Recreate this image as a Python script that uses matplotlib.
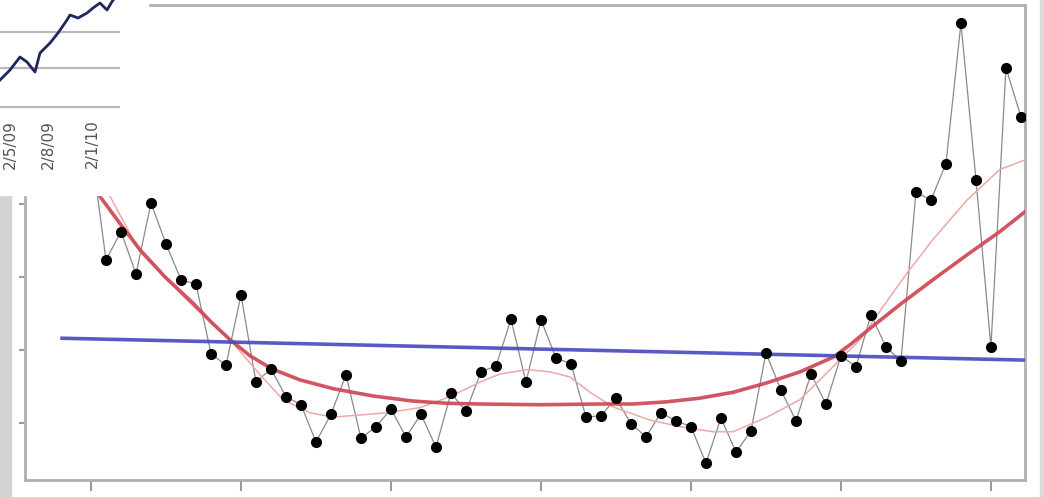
import numpy as np
import matplotlib.pyplot as plt
from matplotlib.patches import Rectangle

# observed series (x = period index)
obs_x = np.arange(63)
obs_y = [4.78, 3.23, 3.62, 3.04, 4.01, 3.45, 2.96, 2.90, 1.95, 1.79,
         2.75, 1.56, 1.74, 1.36, 1.25, 0.74, 1.12, 1.66, 0.79, 0.95,
         1.19, 0.81, 1.12, 0.67, 1.41, 1.16, 1.70, 1.78, 2.42, 1.56,
         2.41, 1.89, 1.81, 1.08, 1.10, 1.34, 0.99, 0.81, 1.14, 1.03,
         0.95, 0.45, 1.07, 0.60, 0.89, 1.96, 1.45, 1.03, 1.67, 1.26,
         1.92, 1.77, 2.48, 2.04, 1.85, 4.16, 4.05, 4.55, 6.47, 4.33,
         2.04, 5.86, 5.19]

# linear trend
lin_x = [-1.93, 62.4]
lin_y = [2.16, 1.86]

# polynomial trend
poly_x = [0, 0.6, 1.93, 3.27, 4.93, 6.8, 8.07, 9.27, 10.6, 12.07, 13.93,
          16.13, 18.8, 21.47, 23.73, 25.93, 29.93, 33.93, 36.13, 38.4, 40.6,
          42.8, 45.07, 47.27, 49.47, 50.6, 51.73, 53.93, 56.13, 58.4, 60.6,
          62.27]
poly_y = [4.26, 4.10, 3.73, 3.37, 3.00, 2.64, 2.37, 2.14, 1.92, 1.74, 1.59,
          1.47, 1.37, 1.30, 1.27, 1.26, 1.25, 1.26, 1.26, 1.29, 1.34,
          1.42, 1.55, 1.70, 1.90, 2.07, 2.26, 2.62, 2.96, 3.30, 3.62,
          3.89]

# local smoother
lo_x = [0, 1.27, 3.27, 6.8, 9.27, 11.27, 12.8, 14.6, 16.13, 19.73, 21.93,
        23.93, 25.93, 27.27, 29.07, 30.6, 31.93, 33.27, 34.8, 37.27, 39.27,
        41.47, 42.8, 45.07, 47.27, 49.47, 51.27, 52.8, 54.4, 56.13, 58.4,
        60.6, 62.27]
lo_y = [4.33, 4.10, 3.34, 2.60, 2.14, 1.66, 1.32, 1.14, 1.08, 1.14, 1.21,
        1.36, 1.56, 1.67, 1.73, 1.70, 1.63, 1.42, 1.22, 1.04, 0.95,
        0.88, 0.88, 1.08, 1.32, 1.77, 2.14, 2.59, 3.05, 3.51, 4.05,
        4.47, 4.60]

# small price chart in the corner
mini_x = [0, 10, 20, 27, 35, 40, 50, 58, 67, 70, 78, 87, 93, 100, 107, 113, 120]
mini_y = [30, 40, 53, 48, 38, 57, 67, 77, 90, 95, 92, 97, 102, 107, 100, 110, 115]
mini_grid = [3, 42, 78]
mini_ticks = [10, 48, 92]
mini_labels = ['2/5/09', '2/8/09', '2/1/10']

W, H = 1044, 497
fig = plt.figure(figsize=(W / 100, H / 100), dpi=100)

# grey strips at the edges
fig.patches.append(Rectangle((0, 0), 11 / W, 1, transform=fig.transFigure,
                             color='#d4d4d4', zorder=0))
fig.patches.append(Rectangle((1040 / W, 0), 4 / W, 1, transform=fig.transFigure,
                             color='#dcdcdc', zorder=0))

ax = fig.add_axes([25 / W, (H - 480) / H, 1000 / W, 475 / H])
ax.plot(obs_x, obs_y, color='#8a8a8a', lw=0.9, zorder=2)
ax.plot(obs_x, obs_y, 'o', color='black', ms=7, zorder=5)
ax.plot(lo_x, lo_y, color='#eea8a8', lw=1.1, zorder=3)
ax.plot(poly_x, poly_y, color='#cc4450', lw=2.6, alpha=0.9, zorder=4,
        solid_joinstyle='round')
ax.plot(lin_x, lin_y, color='#4848c0', lw=2.6, alpha=0.9, zorder=4)

ax.set_xlim(-4.4, 62.27)
ax.set_ylim(0.22, 6.72)
ax.set_xticks(range(0, 61, 10))
ax.set_yticks([1, 2, 3, 4, 5, 6])
ax.tick_params(colors='#9a9a9a', width=1.5, labelleft=False, labelbottom=False)
ax.tick_params(axis='x', length=8)
ax.tick_params(axis='y', length=4)
for s in ax.spines.values():
    s.set_color('#b0b0b0')
    s.set_linewidth(2)

# corner inset
fig.patches.append(Rectangle((0, (H - 195) / H), 148 / W, 195 / H,
                             transform=fig.transFigure, color='white', zorder=10))
ins = fig.add_axes([0, (H - 110) / H, 120 / W, 110 / H], zorder=11)
ins.patch.set_visible(False)
for y in mini_grid:
    ins.axhline(y, color='#b8b8b8', lw=1.6, zorder=1)
ins.plot(mini_x, mini_y, color='#1f2660', lw=2, zorder=2)
ins.set_xlim(0, 120)
ins.set_ylim(0, 110)
ins.set_yticks([])
ins.set_xticks(mini_ticks)
ins.set_xticklabels(mini_labels, rotation=90, fontsize=11, color='#555555')
ins.tick_params(axis='x', length=0, pad=7)
for s in ins.spines.values():
    s.set_visible(False)

fig.savefig('out.png', dpi=100)
